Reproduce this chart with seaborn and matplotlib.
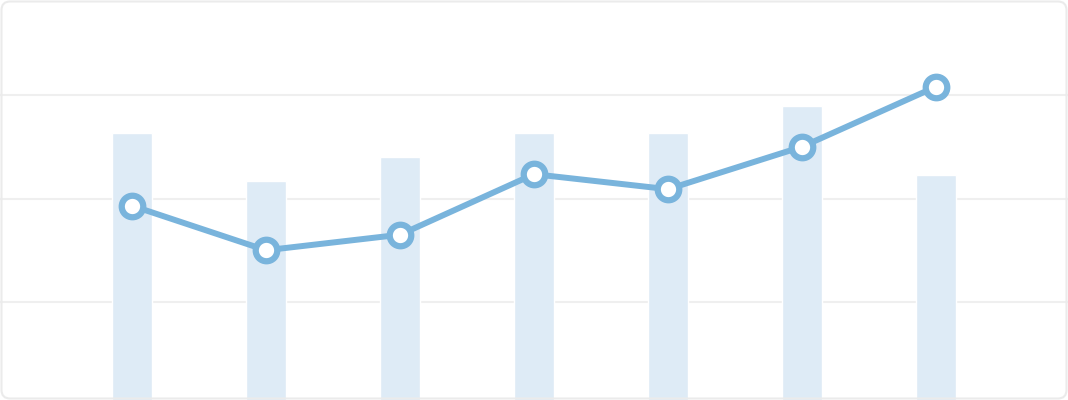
import matplotlib
matplotlib.use('Agg')
import matplotlib.pyplot as plt
from matplotlib.patches import FancyBboxPatch
import seaborn as sns
import pandas as pd

# Data
categories = ['1', '2', '3', '4', '5', '6', '7']
bar_values = [52.7, 43.4, 48.0, 52.7, 52.7, 57.9, 44.5]
line_values = [38.6, 30.0, 33.0, 44.7, 41.8, 50.0, 61.6]
grid_ticks = [20, 40, 60]

df = pd.DataFrame({'cat': categories, 'bar': bar_values, 'line': line_values})
df['pos'] = range(len(categories))

sns.set_style('white')
fig = plt.figure(figsize=(10.68, 4), dpi=100)
ax = fig.add_axes([0, 0, 1, 1])

sns.barplot(data=df, x='cat', y='bar', color='#deebf6', saturation=1,
            width=0.3, ax=ax, zorder=2)
sns.lineplot(data=df, x='pos', y='line', color='#79b4dc', linewidth=4.3,
             marker='o', markersize=15.5, markerfacecolor='white',
             markeredgecolor='#79b4dc', markeredgewidth=4.5, ax=ax, zorder=4)

ax.set_xlim(-0.985, 6.985)
ax.set_ylim((405.5 - 400) / 103.5 * 20, 405.5 / 103.5 * 20)
ax.set_yticks(grid_ticks)
ax.grid(axis='y', color='#efefef', linewidth=1.5, zorder=0)
ax.set_axisbelow(True)
ax.tick_params(left=False, bottom=False, labelleft=False, labelbottom=False)
ax.set_xlabel('')
ax.set_ylabel('')
for s in ax.spines.values():
    s.set_visible(False)

# Rounded card border
border = FancyBboxPatch((1.5 / 1068, 1.5 / 400), 1 - 3 / 1068, 1 - 3 / 400,
                        boxstyle='round,pad=0,rounding_size=0.008',
                        transform=fig.transFigure, fill=False,
                        edgecolor='#ebebeb', linewidth=1.5, zorder=10,
                        mutation_aspect=1068 / 400)
fig.patches.append(border)

fig.savefig('out.png', dpi=100)
